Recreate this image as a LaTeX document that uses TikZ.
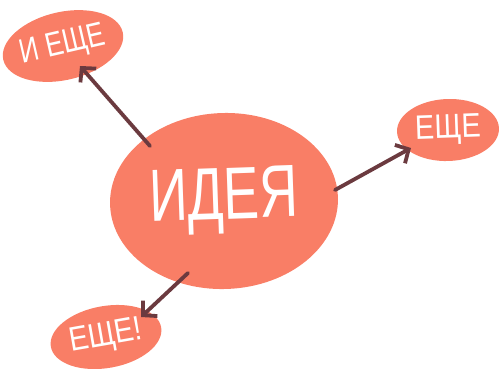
\documentclass[tikz,border=0pt]{standalone}
\usepackage{fontspec}
\setmainfont{Liberation Sans}
\usetikzlibrary{arrows.meta,shapes.geometric}
\definecolor{blob}{HTML}{F97E66}
\definecolor{arr}{HTML}{6B3A3F}
\tikzset{
  blobshape/.style={ellipse, fill=blob, draw=none, inner sep=0pt, text=white},
  lbl/.style={blobshape, font=\fontsize{34}{34}\selectfont},
  conn/.style={draw=arr, line width=3.8pt, line cap=round,
    -{Straight Barb[length=10pt,width=21pt,line width=3.8pt]}}
}
\begin{document}
\begin{tikzpicture}[x=1pt,y=-1pt]
\useasboundingbox (0,0) rectangle (499,368);
\node[blobshape, minimum width=228pt, minimum height=176pt, rotate=2,
  font=\fontsize{74}{74}\selectfont] (idea) at (224,201) {\scalebox{0.72}[1]{ИДЕЯ}};
\node[lbl, minimum width=117pt, minimum height=68pt, rotate=13] (a) at (63,46) {\scalebox{0.78}[1]{И ЕЩЕ}};
\node[lbl, minimum width=102pt, minimum height=62pt, rotate=2] (b) at (448,130) {\scalebox{0.85}[1]{ЕЩЕ}};
\node[lbl, minimum width=112pt, minimum height=62pt, rotate=10] (c) at (106,337) {\scalebox{0.85}[1]{ЕЩЕ!}};
\coordinate (s1) at (150,146);
\coordinate (e1) at (80,66);
\coordinate (s2) at (335,190);
\coordinate (e2) at (411,148);
\coordinate (s3) at (188,273);
\coordinate (e3) at (141,317);
\draw[conn] (s1) -- (e1);
\draw[conn] (s2) -- (e2);
\draw[conn] (s3) -- (e3);
\end{tikzpicture}
\end{document}
